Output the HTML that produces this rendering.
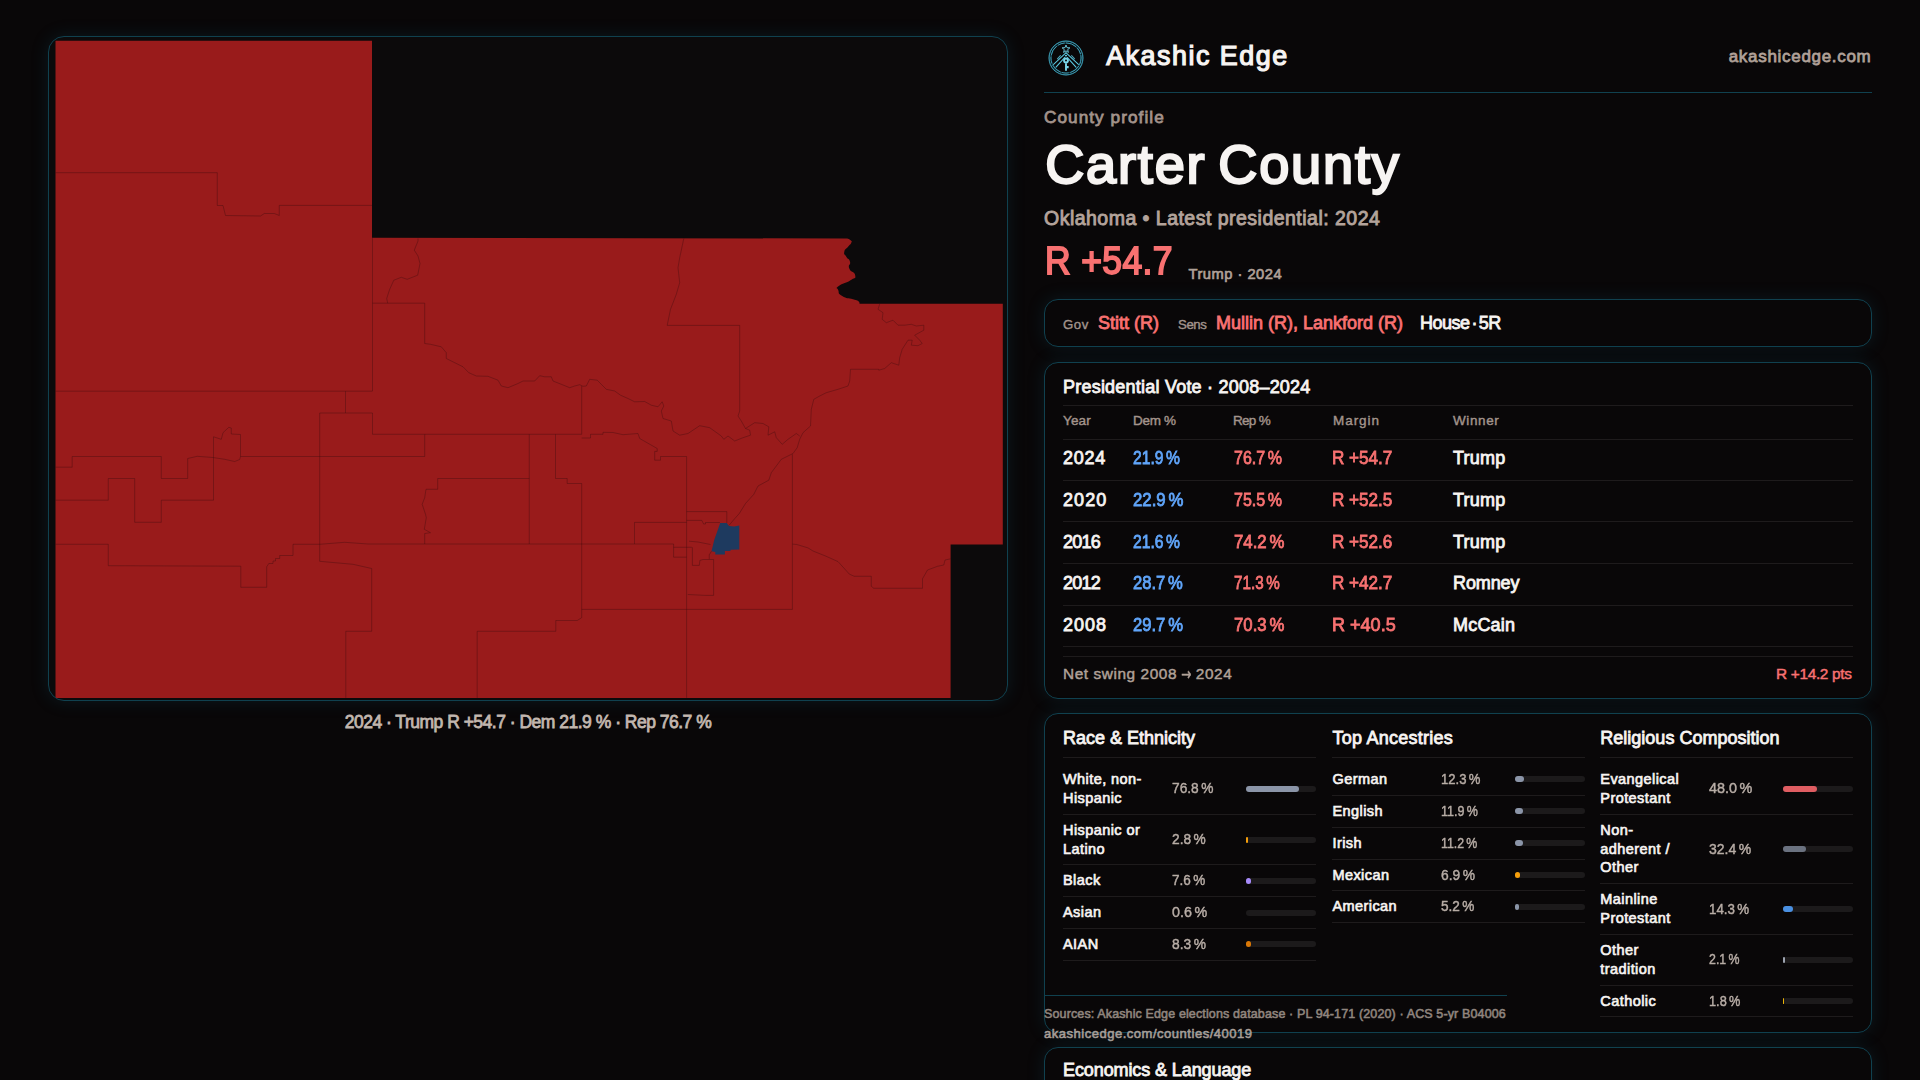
<!DOCTYPE html>
<html lang="en">
<head>
<meta charset="utf-8">
<title>Carter County, Oklahoma · County profile · Akashic Edge</title>
<style>
*{box-sizing:border-box;margin:0;padding:0}
html,body{width:1920px;height:1080px;overflow:hidden;background:#090708}
body{position:relative;font-family:"Liberation Sans",sans-serif;color:#f7f4f2;-webkit-font-smoothing:antialiased}
.abs{position:absolute;white-space:nowrap}
.card{position:absolute;border:1px solid #10414f;border-radius:14px;background:#090708;box-shadow:0 0 18px rgba(24,115,140,.17)}
.mut{color:#b0a198}
.rep{color:#f87171}
.dem{color:#60a5fa}
.arw{display:inline-block;font-family:"DejaVu Sans",sans-serif;font-size:1.12em;line-height:0;transform:scaleX(.7);margin:0 -3px;position:relative;top:.5px;-webkit-text-stroke:.5px currentColor}
.md{-webkit-text-stroke:.03em currentColor}
.sb{-webkit-text-stroke:.045em currentColor}

/* ---------- map ---------- */
#mapbox{left:48px;top:36px;width:960px;height:665px;background:#0c0a0b;overflow:hidden;border-radius:16px}
#mapbox svg{position:absolute;left:-1px;top:-1px}
#caption{left:48px;width:960px;top:709.6px;text-align:center;font-size:17.5px;line-height:24px;color:#c2b7af;letter-spacing:-.5px}

/* ---------- header ---------- */
#brand{left:1106.2px;top:37.86px;font-size:26.9px;line-height:36px;font-weight:400;letter-spacing:1.5px;-webkit-text-stroke:1.2px currentColor}
#site{right:48.5px;top:46.4px;font-size:17px;line-height:22px;color:#b0a198;letter-spacing:.7px}
#hr{left:1044px;top:92px;width:828px;height:1px;background:#10414f}
#kicker{left:1044px;top:106.4px;font-size:17.2px;line-height:22px;color:#a3938b;letter-spacing:1.05px}
#title{left:1045.2px;top:129.64px;font-size:54.2px;line-height:68px;font-weight:400;word-spacing:-5px;letter-spacing:1.78px;-webkit-text-stroke:2.3px currentColor}
#sub{left:1044px;top:205.5px;font-size:19.5px;line-height:24px;color:#b3a39b;letter-spacing:.48px}
#margin{left:1045.2px;top:237.13px;font-size:38.2px;line-height:48px;font-weight:400;color:#f87171;letter-spacing:.4px;-webkit-text-stroke:1.8px currentColor;transform:scaleX(.93);transform-origin:0 50%}
#mlabel{left:1188.5px;top:263.9px;font-size:14.7px;line-height:20px;color:#b0a198;letter-spacing:.5px}

/* ---------- officials ---------- */
#off{left:1044px;top:299px;width:828px;height:48px}
#off span{position:absolute;white-space:nowrap;line-height:22px}
#off .k{font-size:13.2px;color:#a3948c;top:13.5px}
#off .v{font-size:18px;top:11.9px}

/* ---------- presidential ---------- */
#pres{left:1044px;top:362px;width:828px;height:337px}
.ttl{position:absolute;font-size:18px;line-height:24px;white-space:nowrap;color:#f7f4f2;letter-spacing:.22px}
.ln{position:absolute;height:1px;background:#1e1b1c}
#pres .th{position:absolute;font-size:13.5px;line-height:18px;color:#a3948c;top:49px;white-space:nowrap}
#pres .row{position:absolute;left:18px;right:18px;height:42px;font-size:18px;line-height:24px}
#pres .row span{position:absolute;top:var(--t);white-space:nowrap}
.c1{left:0;letter-spacing:.7px}.c2{left:70px;word-spacing:-2px;transform:scaleX(.87);transform-origin:0 50%}.c3{left:171px;word-spacing:-2px;transform:scaleX(.89);transform-origin:0 50%}.c4{left:269.2px;transform:scaleX(.95);transform-origin:0 50%}.c5{left:390px;letter-spacing:.2px}

/* ---------- demographics ---------- */
#demo{left:1044px;top:713px;width:828px;height:320px}
#demo{display:flex;gap:16px;padding:0 18px}
.col{flex:1 1 0;min-width:0;position:relative}
#cb{left:.8px}
.col h3{font-size:18px;line-height:24px;font-weight:400;margin-top:12px;padding-bottom:7px;border-bottom:1px solid #1e1b1c;margin-bottom:6px;white-space:nowrap}
.col .r{display:grid;grid-template-columns:1fr 64px 70px;column-gap:10px;align-items:center;padding:6px 0;border-bottom:1px solid #1e1b1c;font-size:14.5px;line-height:18.85px}
.col .r .l{color:#f7f4f2;white-space:nowrap;letter-spacing:.42px}
.col .r .p{color:#b8ada6;white-space:nowrap;font-size:15px;word-spacing:-1.5px;transform-origin:0 50%}
.col .r .b{display:block;width:70px;height:6px;border-radius:3px;background:#1c1a1b}
.col .r .b i{display:block;height:6px;border-radius:3px}

#foot{left:1044px;top:995px;width:463px;border-top:1px solid #10414f;font-size:12.5px;line-height:20px;color:#a2968f;padding-top:8.4px;white-space:nowrap}
#f1{letter-spacing:.13px;color:#90857e}
#f2{font-size:13px;letter-spacing:.52px;color:#aa9f98}
#econ{left:1044px;top:1047px;width:828px;height:80px}
/*FIT*/
#th1{letter-spacing:0.17px}
#th2{letter-spacing:-0.3px}
#th3{letter-spacing:-0.7px}
#th4{letter-spacing:0.95px}
#th5{letter-spacing:0.6px}
#w3{letter-spacing:-0.1px}
#w4{letter-spacing:0.2px}
#nsv{letter-spacing:-0.34px}
#cap0{transform:scaleX(0.915)}
#cap1{transform:scaleX(0.916)}
#cap2{transform:scaleX(0.9)}
#cap3{transform:scaleX(0.955)}
#cap4{transform:scaleX(0.92)}
#cbp0{transform:scaleX(0.872)}
#cbp1{transform:scaleX(0.836)}
#cbp2{transform:scaleX(0.825)}
#cbp3{transform:scaleX(0.92)}
#cbp4{transform:scaleX(0.907)}
#ccp0{transform:scaleX(0.96)}
#ccp1{transform:scaleX(0.933)}
#ccp2{transform:scaleX(0.889)}
#ccp3{transform:scaleX(0.825)}
#ccp4{transform:scaleX(0.85)}
#y1{letter-spacing:1.08px}
#y2{letter-spacing:-0.75px}
#y3{letter-spacing:-0.77px}
#y4{letter-spacing:0.97px}
#d1{transform:scaleX(0.933)}
#d3{transform:scaleX(0.922)}
#d4{transform:scaleX(0.924)}
#r2{transform:scaleX(0.932)}
#r3{transform:scaleX(0.846)}
#r4{transform:scaleX(0.931)}
#m4{transform:scaleX(1.002)}
/*ENDFIT*/
</style>
</head>
<body>

<!-- MAP -->
<div id="mapbox" class="card">
<svg id="mapsvg" width="960" height="665" viewBox="48 36 960 665">
<path id="county" fill="#991b1b" d="M55.5 40.8H372V237.8L847.2 238.5C848.3 239.1 849.2 238.8 850.6 240.2C852.0 241.6 852.2 240.5 851.3 242.7C850.4 244.9 850.3 243.8 848.0 246.8C845.7 249.8 844.9 248.5 844.3 251.8C843.7 255.1 844.4 253.5 846.3 256.8C848.2 260.1 849.0 257.9 850.0 261.8C851.0 265.7 847.6 264.0 849.3 268.5C851.0 273.0 854.8 271.3 855.2 275.2C855.6 279.1 856.0 276.6 850.5 280.2C845.0 283.8 842.9 282.7 838.8 286.0C834.7 289.3 837.2 286.9 838.3 290.2C839.4 293.5 837.3 293.0 842.2 296.0C847.1 299.0 847.7 297.6 853.0 299.3C858.3 301.0 855.8 299.5 858.0 301.0C860.2 302.5 859.1 302.8 859.6 303.7H1002.8V544.6H950.6V697.9H55.5Z"/>
<g fill="none" stroke="#3d0a0d" stroke-opacity=".62" stroke-width=".6" stroke-linejoin="round">
<path d="M55.5 172.7H217.3V205.5H223L225.5 215.5L260.5 216L264.3 213.5H274.3L279.3 215.5V205.4H372"/>
<path d="M418 238.5L418 241L414.3 250.2L418 256L420 263.5L417.7 275.2L407.2 279.3L401.3 277.3L393.8 280.2L389.7 289.3L386.7 298.5L387.7 303.2"/>
<path d="M372.5 237.8V391M372.5 303.2H424.7V343.5"/>
<path d="M424.7 343.5L430.5 344.3L441.3 346.8L446.3 352.7V358.5L454.7 362.7L463 366.8L468.8 372.7L476.3 376L488 376.3L498 380.2L501.3 386L508 387.7L518 383.5L523 381H534.7L539.7 375.7L544.7 376.8H551.3L553 381L561.3 384.3L569.7 387.7L574.7 386L579.7 384.7L583 386.3L586.3 386L589.7 379.3L597.2 380.2L601.3 384.3L606.3 389.3L614.7 391L620.5 395.2L628 398.5L634.7 401.8L644.7 401.5L651.3 405.2L658 406.8L662.2 401.8L663.8 406L661.3 411L663 418.5L671.3 421L673 431L679.7 435.2L688 433.5L699.7 425.7L709.7 427.7L721.3 436L723.8 439.3L728 436L734.7 441L743 437.7L750.5 435.2L749.7 430.2L745.5 428.5"/>
<path d="M683.8 238.5L679.7 257.7L678 267.7L679.7 282.7L676.3 294.3L670.5 309.3L667.2 325.4H739.7V411L738 416L741.3 421L745.5 428.5L754.7 422.7L763 423.5L768.8 426.8L768 435.2L774.7 431.8L776.3 437.7L782.2 444.3L788 439.3L796.3 433.5L799.7 436"/>
<path d="M879.7 304L878 309.3L883 312.7L882.2 319.3L886.3 322.7L893 320.2L898 325.2H904.7L911.3 324.3L916.3 326L923.8 325.2V330.2L914.7 335.2L919.7 340.2L922.2 343.5L918 345.7L911.3 345.2L912.2 340.2H908L902.2 349.3L899.7 357.7L898.8 365.2L891.3 362.7L884.7 368.5L878.8 370.2L878.8 369.3H850.5L849.7 381L848 386L838 389.3L826.3 392.7L819.7 396L813.8 399.3L811.3 409.3L810.5 426L803 432.7L799.7 439.3L797.2 447.7L793 453.5L781.3 459.3L771.3 472.7L768.8 480.2L758 486L753.8 494.3L745.5 503.5L739.3 513.5L734.3 519.1L729 525.4"/>
<path d="M55.5 391.2H372.5M345.5 391.2V413M319.7 413H372.5V434.3M319.7 413V561.3L353 564.3L371.7 568.5V631.3H345.8V697.9"/>
<path d="M240.5 456.5H424.7V434.3M372.5 434.3H581.7M581.7 386V434.3"/>
<path d="M55.5 467.2H72.2V456.5H161.3V478.5H187.7V458.5L197.2 456.3L213 457.5L224.7 459.3L234.7 461.5L239.7 459.5L240.5 456.5V434.5L231.3 434V428L228.8 427.3L223 432.7L221.3 439.3L213.5 436.8V500.2"/>
<path d="M55.5 500.2H108.3V478.5H134.7V522.3H161.3V500.2H213.5"/>
<path d="M55.5 544.3H108.3V565.7L240.8 566.2V587.3H266.7V566.8L268.8 563.5H273V561H275.5V558.5H279.7V555.5H293V544.3H319.7L344.7 542.3L368 544H581.7"/>
<path d="M529.3 434.3V544M555.5 434.3V478.5H567.2V483.5H581.7V617.7L577.2 620.5H555.8V631.3H477.2V697.9"/>
<path d="M437.7 478.5H529.3M437.7 478.5V489.3H426L424.7 497.7L422.2 504.3L425.5 514.3L426.3 517.7L424.3 529.3L430.5 532.7L424.7 533.5V544"/>
<path d="M581.7 438H590.5V434.3H603V432.3L613 432.5L623 434.7L638 433.5L639.7 438.5L657.2 448.5V451.4H654.7V460.2H660.5V456.5H686.6V697.9"/>
<path d="M634.5 544V522.4H686.6M581.7 544H673.6V557.2H686.6M581.7 609.4H792.4V454.3"/>
<path d="M686.6 511.6H726.8V522.9M686.6 520.4H701.8L703.6 524H705.5V522.5H719.9M689 541.2L698 542L710.5 544.5M711.5 551.2L709.3 554.8V559.1M673.6 547.3H691.8M692.4 547.3V565.4H699.3L699.9 560.4L703 559.5H713.6V595.4H705.5L687.8 594.5"/>
<path d="M792.4 544.1L796.8 544.5L808 547.9L813 551L825.5 556L838 561.6L845.5 569.8L849.3 574.1L854.3 576.3H871.3V586.3L873.8 588.3H922.5V578.8L927.5 570L937.5 566.3L943.8 565L945 560L950.6 558.8"/>
</g>
<path fill="#1e3a5f" d="M720.2 522.9H726.8L729 526L734.3 526.6L739.3 525.6V549.5L730.5 549.8V551H724.9V554.5H715.3V552L711.5 551.2L714.3 539.8Z"/>
</svg>
</div>
<div id="caption" class="abs sb">2024 · Trump R +54.7 · Dem 21.9 % · Rep 76.7 %</div>

<!-- HEADER -->
<svg id="logo" class="abs" style="left:1044px;top:36px" width="44" height="44" viewBox="0 0 44 44" fill="none">
<defs><filter id="lg" x="-20%" y="-20%" width="140%" height="140%"><feGaussianBlur stdDeviation=".7"/></filter></defs>
<g stroke="#2aa7c9" stroke-width="1.2" opacity=".4" filter="url(#lg)"><circle cx="22" cy="22" r="16.9"/><circle cx="22" cy="22" r="15"/></g>
<g stroke="#4fc0db" stroke-width=".7"><circle cx="22" cy="22" r="16.95"/><circle cx="22" cy="22" r="15.1" stroke-dasharray="7 1.2 11 1.6"/></g>
<g stroke="#5ccbe3" stroke-width="1.05" stroke-linecap="round">
<path d="M21.6 17.2L9.6 28.4M22.6 19.4L12 31.2M22.4 17.2L34.4 28.4M21.4 19.4L32 31.2"/>
<path d="M16.4 19.6L13.4 22.8M27.6 19.6L30.6 22.8" opacity=".8"/>
</g>
<polygon points="22.00,9.00 23.03,11.68 25.90,11.83 23.66,13.64 24.41,16.42 22.00,14.85 19.59,16.42 20.34,13.64 18.10,11.83 20.97,11.68" stroke="#6fd3e8" stroke-width=".9" stroke-linejoin="round"/>
<path d="M22 15.6V17.4" stroke="#6fd3e8" stroke-width=".9"/>
<g fill="#7ad6ea"><path fill-rule="evenodd" d="M22 21.7a2.9 2.9 0 1 1 0 5.8a2.9 2.9 0 1 1 0-5.8zM22 23.6a1 1 0 1 0 0 2a1 1 0 1 0 0-2z"/><path d="M21.05 27.2h1.9v2.9h1.7v2.1h-1.7v2.5h-1.9z"/></g>
</svg>
<div id="brand" class="abs">Akashic Edge</div>
<div id="site" class="abs sb">akashicedge.com</div>
<div id="hr" class="abs"></div>
<div id="kicker" class="abs sb">County profile</div>
<h1 id="title" class="abs">Carter County</h1>
<div id="sub" class="abs sb">Oklahoma • Latest presidential: 2024</div>
<div id="margin" class="abs">R +54.7</div>
<div id="mlabel" class="abs sb">Trump · 2024</div>

<!-- OFFICIALS -->
<div id="off" class="card">
<span class="k md" id="o1" style="left:18px;letter-spacing:.6px">Gov</span><span class="v rep sb" id="o2" style="left:53px">Stitt (R)</span>
<span class="k md" id="o3" style="left:133px;letter-spacing:-.4px">Sens</span><span class="v rep sb" id="o4" style="left:171px">Mullin (R), Lankford (R)</span>
<span class="v sb" id="o5" style="left:375px;word-spacing:-2.6px;letter-spacing:-.5px">House · 5R</span>
</div>

<!-- PRESIDENTIAL -->
<div id="pres" class="card">
<div class="ttl sb" id="pt" style="left:18px;top:12px">Presidential Vote · 2008–2024</div>
<div class="ln" style="left:18px;right:18px;top:42px"></div>
<div class="th md" id="th1" style="left:18px">Year</div><div class="th md" id="th2" style="left:88px">Dem %</div><div class="th md" id="th3" style="left:188px">Rep %</div><div class="th md" id="th4" style="left:288px">Margin</div><div class="th md" id="th5" style="left:408px">Winner</div>
<div class="ln" style="left:18px;right:18px;top:76px"></div>
<div class="row" style="top:77px;--t:6.16px"><span class="c1 sb" id="y0">2024</span><span class="c2 dem sb" id="d0">21.9 %</span><span class="c3 rep sb" id="r0">76.7 %</span><span class="c4 rep sb" id="m0">R +54.7</span><span class="c5 sb" id="w0">Trump</span></div>
<div class="ln" style="left:18px;right:18px;top:117px"></div>
<div class="row" style="top:118px;--t:6.76px"><span class="c1 sb" id="y1">2020</span><span class="c2 dem sb" id="d1">22.9 %</span><span class="c3 rep sb" id="r1">75.5 %</span><span class="c4 rep sb" id="m1">R +52.5</span><span class="c5 sb" id="w1">Trump</span></div>
<div class="ln" style="left:18px;right:18px;top:158px"></div>
<div class="row" style="top:159px;--t:7.56px"><span class="c1 sb" id="y2">2016</span><span class="c2 dem sb" id="d2">21.6 %</span><span class="c3 rep sb" id="r2">74.2 %</span><span class="c4 rep sb" id="m2">R +52.6</span><span class="c5 sb" id="w2">Trump</span></div>
<div class="ln" style="left:18px;right:18px;top:200px"></div>
<div class="row" style="top:201px;--t:7.36px"><span class="c1 sb" id="y3">2012</span><span class="c2 dem sb" id="d3">28.7 %</span><span class="c3 rep sb" id="r3">71.3 %</span><span class="c4 rep sb" id="m3">R +42.7</span><span class="c5 sb" id="w3">Romney</span></div>
<div class="ln" style="left:18px;right:18px;top:242px"></div>
<div class="row" style="top:243px;--t:6.81px"><span class="c1 sb" id="y4">2008</span><span class="c2 dem sb" id="d4">29.7 %</span><span class="c3 rep sb" id="r4">70.3 %</span><span class="c4 rep sb" id="m4">R +40.5</span><span class="c5 sb" id="w4">McCain</span></div>
<div class="ln" style="left:18px;right:18px;top:283px"></div>
<div class="ln" style="left:18px;right:18px;top:293px"></div>
<div class="abs mut md" id="ns" style="left:18px;top:301.2px;font-size:15.4px;line-height:20px;letter-spacing:.57px">Net swing 2008 <span class="arw">→</span> 2024</div>
<div class="abs rep md" id="nsv" style="right:19.5px;top:301.2px;font-size:15.4px;line-height:20px">R +14.2 pts</div>
</div>

<!-- DEMOGRAPHICS -->
<div id="demo" class="card">
<section class="col" id="ca"><h3 class="sb"><span id="h1">Race &amp; Ethnicity</span></h3>
<div class="r"><span class="l sb" id="cal0">White, non-<br>Hispanic</span><span class="p md" id="cap0">76.8 %</span><span class="b"><i style="width:53.8px;background:#8b95a8"></i></span></div>
<div class="r"><span class="l sb" id="cal1">Hispanic or<br>Latino</span><span class="p md" id="cap1">2.8 %</span><span class="b"><i style="width:2.0px;background:#f59e0b"></i></span></div>
<div class="r"><span class="l sb" id="cal2">Black</span><span class="p md" id="cap2">7.6 %</span><span class="b"><i style="width:5.3px;background:#a78bfa"></i></span></div>
<div class="r"><span class="l sb" id="cal3">Asian</span><span class="p md" id="cap3">0.6 %</span><span class="b"><i style="width:0.0px;background:#34d399"></i></span></div>
<div class="r"><span class="l sb" id="cal4">AIAN</span><span class="p md" id="cap4">8.3 %</span><span class="b"><i style="width:5.8px;background:#d97706"></i></span></div>
</section>
<section class="col" id="cb"><h3 class="sb"><span id="h2" style="letter-spacing:.24px">Top Ancestries</span></h3>
<div class="r"><span class="l sb" id="cbl0">German</span><span class="p md" id="cbp0">12.3 %</span><span class="b"><i style="width:8.6px;background:#8b95a8"></i></span></div>
<div class="r"><span class="l sb" id="cbl1">English</span><span class="p md" id="cbp1">11.9 %</span><span class="b"><i style="width:8.3px;background:#8b95a8"></i></span></div>
<div class="r"><span class="l sb" id="cbl2">Irish</span><span class="p md" id="cbp2">11.2 %</span><span class="b"><i style="width:7.8px;background:#8b95a8"></i></span></div>
<div class="r"><span class="l sb" id="cbl3">Mexican</span><span class="p md" id="cbp3">6.9 %</span><span class="b"><i style="width:4.8px;background:#f59e0b"></i></span></div>
<div class="r"><span class="l sb" id="cbl4">American</span><span class="p md" id="cbp4">5.2 %</span><span class="b"><i style="width:3.6px;background:#8b95a8"></i></span></div>
</section>
<section class="col" id="cc"><h3 class="sb"><span id="h3">Religious Composition</span></h3>
<div class="r"><span class="l sb" id="ccl0">Evangelical<br>Protestant</span><span class="p md" id="ccp0">48.0 %</span><span class="b"><i style="width:33.6px;background:#e05d62"></i></span></div>
<div class="r"><span class="l sb" id="ccl1">Non-<br>adherent /<br>Other</span><span class="p md" id="ccp1">32.4 %</span><span class="b"><i style="width:22.7px;background:#6b7280"></i></span></div>
<div class="r"><span class="l sb" id="ccl2">Mainline<br>Protestant</span><span class="p md" id="ccp2">14.3 %</span><span class="b"><i style="width:10.0px;background:#4a90e2"></i></span></div>
<div class="r"><span class="l sb" id="ccl3">Other<br>tradition</span><span class="p md" id="ccp3">2.1 %</span><span class="b"><i style="width:1.5px;background:#9ca3af"></i></span></div>
<div class="r"><span class="l sb" id="ccl4">Catholic</span><span class="p md" id="ccp4">1.8 %</span><span class="b"><i style="width:1.3px;background:#eab308"></i></span></div>
</section>
</div>

<div id="foot" class="abs sb"><span id="f1">Sources: Akashic Edge elections database · PL 94-171 (2020) · ACS 5-yr B04006</span><br><span id="f2">akashicedge.com/counties/40019</span></div>

<div id="econ" class="card"><div class="ttl sb" id="h4" style="left:18px;top:10px;letter-spacing:-.1px">Economics &amp; Language</div></div>

</body>
</html>
